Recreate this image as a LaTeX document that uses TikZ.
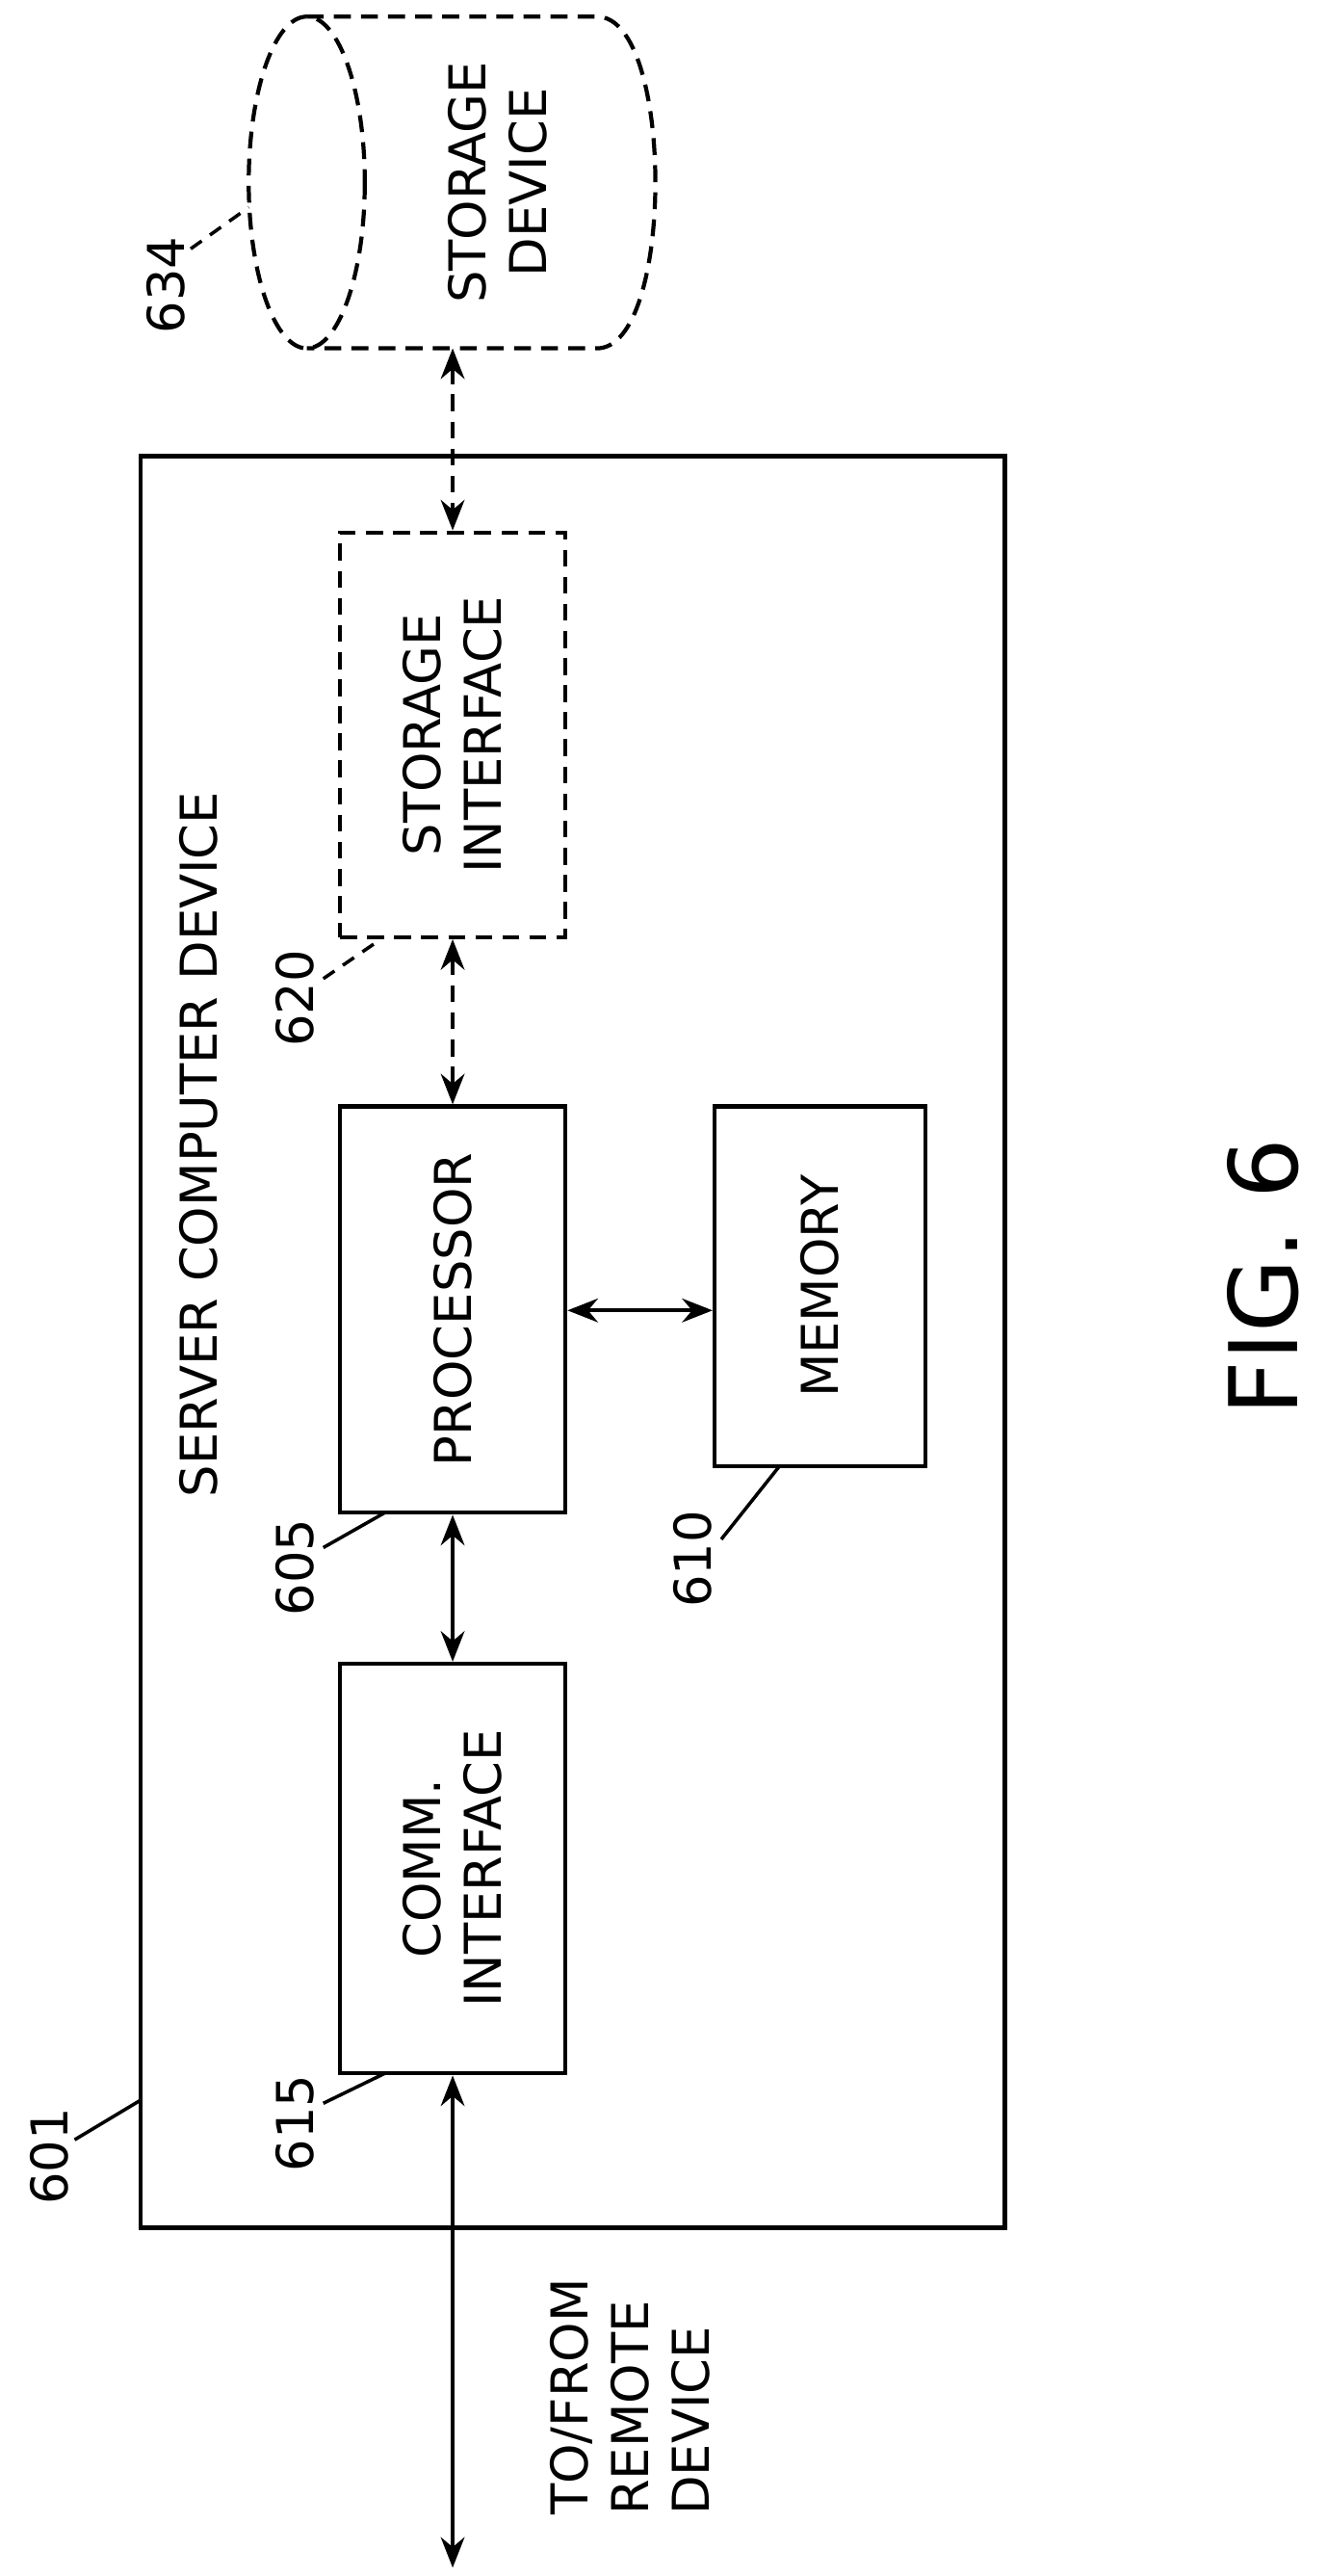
\documentclass[tikz,border=0pt]{standalone}
\usepackage{fontspec}
\setmainfont{DejaVu Sans}
\usetikzlibrary{arrows.meta}
\begin{document}
\begin{tikzpicture}[x=0.1721mm,y=-0.1721mm,
  box/.style={draw,line width=1.2pt},
  dbox/.style={draw,line width=1.2pt,dash pattern=on 5pt off 3pt},
  arr/.style={{Stealth[length=9pt,width=7pt]}-{Stealth[length=9pt,width=7pt]},line width=1.2pt},
  darr/.style={arr,dash pattern=on 5pt off 3pt},
  lbl/.style={rotate=90,font=\fontsize{15}{18}\selectfont,align=center},
  num/.style={rotate=90,font=\fontsize{15}{18}\selectfont},
  lead/.style={line width=1pt}]
\useasboundingbox (0,0) rectangle (800,1553);
\node[box,minimum width=521*0.1721mm,minimum height=1068*0.1721mm] (srv) at (345.5,809) {};
\node[dbox,minimum width=136*0.1721mm,minimum height=244*0.1721mm] (si) at (273,443) {};
\node[lbl] at (si) {STORAGE\\INTERFACE};
\node[box,minimum width=136*0.1721mm,minimum height=245*0.1721mm] (proc) at (273,789.5) {};
\node[lbl] at (proc) {PROCESSOR};
\node[box,minimum width=127*0.1721mm,minimum height=217*0.1721mm] (mem) at (494.5,775.5) {};
\node[lbl] at (mem) {MEMORY};
\node[box,minimum width=136*0.1721mm,minimum height=247*0.1721mm] (comm) at (273,1126.5) {};
\node[lbl] at (comm) {COMM.\\INTERFACE};
% cylinder
\draw[dbox] (185,10) -- (360,10) .. controls (407,10) and (407,210) .. (360,210) -- (185,210);
\draw[dbox] (185,110) ellipse[x radius=35,y radius=100];
\coordinate (cylb) at (273,210);
\node[lbl] at (300,110) {STORAGE\\DEVICE};
\coordinate (far) at (273,1548);
\draw[darr] (cylb) -- (si.north);
\draw[darr] (si.south) -- (proc.north);
\draw[arr] (proc.south) -- (comm.north);
\draw[arr] (proc.east |- 0,790) -- (mem.west |- 0,790);
\draw[arr] (comm.south) -- (far);
\node[lbl] at (120,690) {SERVER COMPUTER DEVICE};
\node[lbl,align=left] at (380,1445) {TO/FROM\\REMOTE\\DEVICE};
\node[rotate=90,font=\fontsize{28}{34}\selectfont] at (762,770) {FIG. 6};
\node[num] (n634) at (100,172) {634};
\draw[lead,dash pattern=on 4pt off 3pt] (115,150) -- (150,125);
\node[num] (n620) at (178,602) {620};
\draw[lead,dash pattern=on 4pt off 3pt] (195,590) -- (230,566);
\node[num] (n605) at (178,945) {605};
\draw[lead] (195,933) -- (232,912);
\node[num] (n610) at (418,940) {610};
\draw[lead] (435,928) -- (470,884);
\node[num] (n615) at (178,1280) {615};
\draw[lead] (195,1268) -- (232,1250);
\node[num] (n601) at (30,1300) {601};
\draw[lead] (45,1290) -- (85,1266);
\end{tikzpicture}
\end{document}
